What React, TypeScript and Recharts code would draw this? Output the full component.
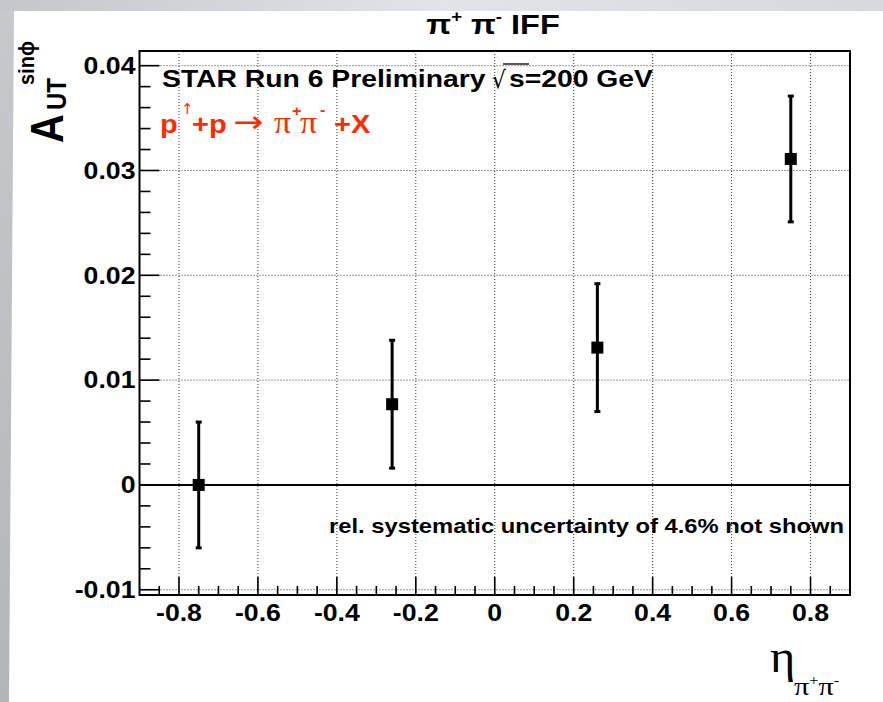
import React from 'react';
import {
  ScatterChart,
  Scatter,
  XAxis,
  YAxis,
  ErrorBar,
  ReferenceLine,
  ReferenceArea,
} from 'recharts';

// ---------- data ----------
const etaValues = [-0.75, -0.26, 0.26, 0.75];
const asymValues = [0.0, 0.0077, 0.0131, 0.0311];
const asymErrors = [0.006, 0.0061, 0.0061, 0.006];

// ---------- axes ----------
const xDomain: [number, number] = [-0.9, 0.9];
const yDomain: [number, number] = [-0.0105, 0.0414];
const xMajorTicks = [-0.8, -0.6, -0.4, -0.2, 0, 0.2, 0.4, 0.6, 0.8];
const xTickLabels = ['-0.8', '-0.6', '-0.4', '-0.2', '0', '0.2', '0.4', '0.6', '0.8'];
const xMinorTicks = [
  -0.85, -0.75, -0.7, -0.65, -0.55, -0.5, -0.45, -0.35, -0.3, -0.25, -0.15, -0.1, -0.05,
  0.05, 0.1, 0.15, 0.25, 0.3, 0.35, 0.45, 0.5, 0.55, 0.65, 0.7, 0.75, 0.85,
];
const yMajorTicks = [-0.01, 0, 0.01, 0.02, 0.03, 0.04];
const yTickLabels = ['-0.01', '0', '0.01', '0.02', '0.03', '0.04'];
const yMinorTicks = [
  -0.008, -0.006, -0.004, -0.002, 0.002, 0.004, 0.006, 0.008, 0.012, 0.014, 0.016, 0.018,
  0.022, 0.024, 0.026, 0.028, 0.032, 0.034, 0.036, 0.038,
];

const points = etaValues.map((x, i) => ({ x, y: asymValues[i], err: asymErrors[i] }));
const xTicks = [...xMajorTicks, ...xMinorTicks].sort((a, b) => a - b);
const yTicks = [...yMajorTicks, ...yMinorTicks].sort((a, b) => a - b);

const FONT = '"Liberation Sans", Arial, Helvetica, sans-serif';
const SERIF = '"Liberation Serif", "Times New Roman", serif';
const SYM = '"DejaVu Sans", "Liberation Sans", sans-serif';
const SX = 1.16;
const RED = '#ff2a00';
const GRID = '#333';

const majorIndex = (v: number, majors: number[]) =>
  majors.findIndex((m) => Math.abs(m - v) < 1e-9);

const XTick = (props: any) => {
  const { x, y, payload } = props;
  const idx = majorIndex(payload.value, xMajorTicks);
  const len = idx >= 0 ? 18 : 9;
  return (
    <g>
      <line x1={x} x2={x} y1={y} y2={y - len} stroke="#000" strokeWidth={1.6} />
      {idx >= 0 && (
        <text
          transform={`translate(${x},${y + 26}) scale(${SX},1)`}
          textAnchor="middle"
          fontFamily={FONT}
          fontWeight="bold"
          fontSize={23}
          fill="#000"
        >
          {xTickLabels[idx]}
        </text>
      )}
    </g>
  );
};

const YTick = (props: any) => {
  const { x, y, payload } = props;
  const idx = majorIndex(payload.value, yMajorTicks);
  const len = idx >= 0 ? 20 : 11;
  return (
    <g>
      <line x1={x} x2={x + len} y1={y} y2={y} stroke="#000" strokeWidth={1.6} />
      {idx >= 0 && (
        <text
          transform={`translate(${x - 4},${y + 8.3}) scale(${SX},1)`}
          textAnchor="end"
          fontFamily={FONT}
          fontWeight="bold"
          fontSize={23}
          fill="#000"
        >
          {yTickLabels[idx]}
        </text>
      )}
    </g>
  );
};

const Square = (props: any) => {
  const { cx, cy } = props;
  return <rect x={cx - 6} y={cy - 6} width={12} height={12} fill="#000" />;
};

const T = ({ x, y, size, sx = SX, bold = true, family = FONT, fill = '#000', anchor = 'start', children }: any) => (
  <text
    transform={`translate(${x},${y}) scale(${sx},1)`}
    fontFamily={family}
    fontWeight={bold ? 'bold' : 'normal'}
    fontSize={size}
    fill={fill}
    textAnchor={anchor}
  >
    {children}
  </text>
);

export default function App() {
  return (
    <div style={{ position: 'absolute', left: 0, top: 0, width: 883, height: 702, overflow: 'hidden' }}>
      <svg width={883} height={702} style={{ position: 'absolute', left: 0, top: 0 }}>
        <defs>
          <linearGradient id="topband" x1="0" y1="0" x2="1" y2="0">
            <stop offset="0" stopColor="#c3c7cb" />
            <stop offset="0.5" stopColor="#e2e5e7" />
            <stop offset="1" stopColor="#d6d9dc" />
          </linearGradient>
          <linearGradient id="leftband" x1="0" y1="0" x2="0" y2="1">
            <stop offset="0" stopColor="#c6cacd" />
            <stop offset="1" stopColor="#b2b6ba" />
          </linearGradient>
        </defs>
        <rect x={0} y={0} width={883} height={702} fill="url(#leftband)" />
        <rect x={0} y={0} width={883} height={11} fill="url(#topband)" />
        <polygon points="14,11 883,11 883,702 9,702" fill="#ffffff" />
      </svg>

      <div style={{ position: 'absolute', left: 0, top: 0 }}>
        <ScatterChart width={883} height={702} margin={{ top: 51, right: 33, bottom: 67, left: 79.5 }}>
          <XAxis
            type="number"
            dataKey="x"
            domain={xDomain}
            ticks={xTicks}
            interval={0}
            allowDataOverflow
            axisLine={false}
            tickLine={false}
            tickSize={0}
            tickMargin={0}
            height={40}
            tick={XTick}
          />
          <YAxis
            type="number"
            dataKey="y"
            domain={yDomain}
            ticks={yTicks}
            interval={0}
            allowDataOverflow
            axisLine={false}
            tickLine={false}
            tickSize={0}
            tickMargin={0}
            width={60}
            tick={YTick}
          />
          {xMajorTicks.map((v) => (
            <ReferenceLine key={`gx${v}`} x={v} stroke={GRID} strokeWidth={1} strokeDasharray="1 2" />
          ))}
          {yMajorTicks
            .filter((v) => v !== 0)
            .map((v) => (
              <ReferenceLine key={`gy${v}`} y={v} stroke={GRID} strokeWidth={1} strokeDasharray="1 2" />
            ))}
          <ReferenceLine y={0} stroke="#000" strokeWidth={2} />
          <Scatter data={points} shape={Square} isAnimationActive={false} fill="#000">
            <ErrorBar dataKey="err" direction="y" width={3} strokeWidth={3} stroke="#000" />
          </Scatter>
          <ReferenceArea
            x1={xDomain[0]}
            x2={xDomain[1]}
            y1={yDomain[0]}
            y2={yDomain[1]}
            fill="none"
            fillOpacity={0}
            stroke="#000"
            strokeWidth={2}
          />
        </ScatterChart>
      </div>

      <svg width={883} height={702} style={{ position: 'absolute', left: 0, top: 0, pointerEvents: 'none' }}>
        {/* title */}
        <text
          transform={`translate(493,34) scale(${SX},1)`}
          textAnchor="middle"
          fontFamily={FONT}
          fontWeight="bold"
          fontSize={28}
          fill="#000"
        >
          π<tspan fontSize={16} dy={-12}>+</tspan>
          <tspan dy={12}> π</tspan>
          <tspan fontSize={16} dy={-12}>-</tspan>
          <tspan dy={12}> IFF</tspan>
        </text>

        {/* STAR label */}
        <T x={162} y={87} size={24} sx={1.18}>STAR Run 6 Preliminary</T>
        <T x={492} y={88} size={24} sx={0.9} bold={false} family={SYM}>√</T>
        <line x1={503} x2={529} y1={64} y2={64} stroke="#000" strokeWidth={1.3} />
        <T x={509} y={87} size={24} sx={1.18}>s=200 GeV</T>

        {/* reaction */}
        <T x={160} y={133} size={25} fill={RED}>p</T>
        <T x={181} y={114} size={15} bold={false} family={SYM} fill={RED} sx={1.0}>↑</T>
        <T x={192} y={133} size={25} fill={RED}>+p</T>
        <T x={233} y={132} size={30} bold={false} family={SYM} fill={RED} sx={1.2}>→</T>
        <T x={274} y={133} size={31} bold={false} family={SERIF} fill={RED} sx={1.1}>π</T>
        <T x={292} y={116} size={14} fill={RED}>+</T>
        <T x={300} y={133} size={31} bold={false} family={SERIF} fill={RED} sx={1.1}>π</T>
        <T x={320} y={115} size={14} fill={RED}>-</T>
        <T x={334} y={133} size={25} fill={RED}>+X</T>

        {/* systematic note */}
        <T x={329} y={533} size={20.5}>rel. systematic uncertainty of 4.6% not shown</T>

        {/* y-axis title */}
        <text transform="translate(63,143) rotate(-90) scale(1,1.15)" fontFamily={FONT} fontWeight="bold" fontSize={40} fill="#000">A</text>
        <text transform="translate(66,110) rotate(-90) scale(1,1.12)" fontFamily={FONT} fontWeight="bold" fontSize={24} fill="#000">UT</text>
        <text transform="translate(34,85) rotate(-90) scale(1,1.12)" fontFamily={FONT} fontWeight="bold" fontSize={20} fill="#000">sinϕ</text>

        {/* x-axis title */}
        <text transform="translate(770,672) scale(1.05,1)" fontFamily={SERIF} fontSize={46} fill="#000">η</text>
        <text transform="translate(794,695) scale(1.16,1)" fontFamily={SERIF} fontSize={26} fill="#000">
          π<tspan fontSize={14} dy={-10}>+</tspan>
          <tspan dy={10}>π</tspan>
          <tspan fontSize={14} dy={-10}>-</tspan>
        </text>
      </svg>
    </div>
  );
}
